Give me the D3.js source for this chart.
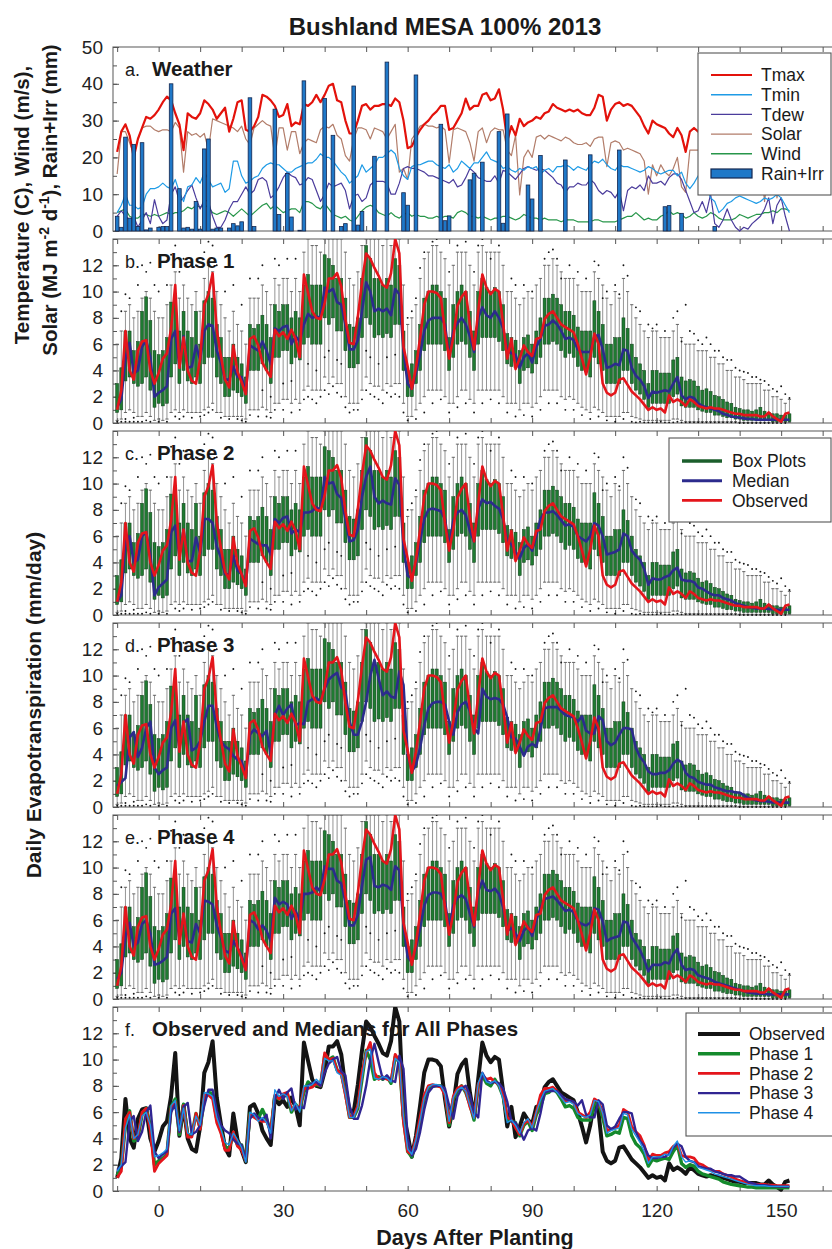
<!DOCTYPE html>
<html><head><meta charset="utf-8">
<script src="https://cdn.jsdelivr.net/npm/d3@7"></script>
<style>body{margin:0;background:#fff}svg{display:block}</style>
</head><body>
<svg id="c" width="832" height="1249"></svg>
<script>
// ---------------- DATA ----------------
const days = d3.range(-10, 153); // day after planting, -10 .. 152
const xTickLabels = [0, 30, 60, 90, 120, 150];
const wTickLabels = [0, 10, 20, 30, 40, 50];
const etTickLabels = [0, 2, 4, 6, 8, 10, 12];

const tmax = [21.5,27,29,26,20,25,28,31,30.5,31.5,
 33,35,36.5,35.5,32,29,22,32,31,30.5,
 32,35.5,34.5,33,30.5,32,33.5,27,30.5,35,
 35.5,27.5,27,28.5,31,37,36.5,35.5,34,31,
 31.5,34.5,28.5,29.5,29,34.5,34,35,37,35,
 37,39.5,40,35.5,35,30,26.5,26.5,30,34,
 34.5,33,34,34,34.5,34.5,34,36,35,30,
 22.5,23,25.5,27.5,29,30,31.5,32.5,34,34,
 27.5,28,30,32,36,33,34,34,37,37.5,
 35.5,36,38.5,33,24.5,28.5,26,30.5,28.5,29.5,
 30,31,30.5,32,32.5,34.5,33.5,33,32.5,33,
 32.5,33,32,31.5,31.5,33.5,37,36.5,30,33,
 34.5,35,34,34.5,34,32.5,31,28.5,26.5,30,
 29,28.5,28,26.5,25.5,28,26,21.5,27,28,
 27,28,29,30,28,27,29,30,28,27,
 26,28,29,27,26,25,27,28,26,25,
 27,24,22];
const tmin = [5,7,10,7,7,6,6.5,10,11.5,11.5,
 12,13,12,11.5,14,10.5,8,12,12.5,14.5,
 13,16,14,12,12.5,13,10.5,11.5,19,19,
 15,13,13.5,14.5,15,17,18,18.5,18,18,
 17,16,16,17,17.5,18,18.5,18.5,19.5,21,
 20,20,19,17.5,16,15,13,14,15,18,
 16,17,18,20,20,21,22,21,17,15,
 14,17.5,18,18,18.5,19,19,18,17.5,17,
 18,16,17,19,18,17,18.5,18.5,20,21.5,
 19.5,19,18.5,17,17.5,16.5,16,17,16.5,17.5,
 17,17.5,15.5,16.5,17,16,17.5,17.5,18,17.5,
 16.5,17.5,17,16.5,18,19,18.5,19.5,18,17,
 16.5,18,17.5,17.5,17,16.5,16,16.5,17.5,17,
 16,15.5,16,16.5,16.5,15,16,13,11.5,13,
 15,14,12,9,8,5,6,7.5,8,9,
 9.5,9,8.5,8,7.5,8,9,8.5,9,10,
 9,7,5];
const tdew = [4,5.5,4,3,4,1,3,5,2,8.5,
 4,2,3,10,12,8,9,11,12.5,9,
 6,8.5,8,4,1,1,3,6,8,8,
 10,12,10,11,14,14.5,13.5,9,10,12,
 14.5,16,15,14.5,12.5,13,14.5,14,11,8,
 10,13,12,12.5,13,11,6,9.5,10,8,
 9,12.5,13.5,13.5,13.5,13,10,10,13,17,
 17.5,17,17,16.5,16,15,15,14.5,14,13.5,
 13,14,12,12.5,14.5,17,16,14.5,14,13.5,
 13.5,15,13,16.5,16,15,14,15.5,17,17.5,
 17,16.5,17,16.5,15.5,14.5,13,12.5,10.5,12,
 12,13,12.5,12.5,14,13,11,10,11,10.5,
 9,11,5.5,11,12,11.5,12.5,11,15,13,
 13,13.5,12.5,14.5,15.5,15.5,14,11,8,5,
 5.5,8,5,10,2,1,3,6,3,1,
 0,1,0.5,2,3,4,6,9,2,7,
 9,4,0];
const solar = [15.5,27,27,24,21,25,28,28.5,28.5,27.5,
 27,27.5,27.5,27,29.5,28,16,27,26,26.5,
 25.5,26.5,22,30.5,30,29.5,29,28.5,28,27,
 28.5,25,23.5,28,29,30,29,28.5,20,28,
 28,22,27,27,21,24,25,24.5,24,27.5,
 28.5,28,29,26,25,20.5,19,25,28,28,
 27.5,25,28,27.5,27,25,27,29,16,17,
 14,25,26.5,28.5,29,28.5,28.5,28,28.5,27.5,
 18.5,27.5,28,27.5,27,24,19,27,28,24,
 27,28,27.5,27.5,22,20.5,26,9.8,20,22,
 20,25.5,26,25,26,25.5,25,24.5,25.5,25,
 24,23.5,23.5,24,23,25,25.5,25.5,17.5,24,
 24.5,24,22,22.5,22,21.5,21,19,10,18,
 15,18,16,15,17,20,12,10.5,22,22,
 22,21,20,22,21,20,19,21,20,19,
 18,20,19,18,17,19,8,18,17,9,
 16,12,15];
const wind = [5,5.5,6,4,3.5,3.5,4.5,4.5,4,4.5,
 4,4.5,5,4.5,5,5,5.5,6.5,6,7,
 6.5,7,6.5,5,4.5,5,5.5,5,4,5,
 6,5,4,5,6,7,7.5,6,7,6,
 5,5.5,6,6,5,8,8,7.5,6.5,6,
 7.5,6,4.5,4,3.5,4,3,2.5,4,5.5,
 6.5,7,6.5,5,4.5,4,5,4,3.5,4.5,
 5,4,4.5,4,4,3.5,3.5,4,3.5,4,
 4,3.5,5,5.5,5,4,4,3.5,4,3.5,
 3,3.5,3.5,4,4,3.5,3,3.5,4.5,4,
 3.5,3.5,3,3.5,3,3,3,2.5,3,3,
 3,2.5,2.5,2.5,2.5,3,3,2.5,2.5,2.5,
 2.5,3,3.5,4,4,5,4,3,3.5,3,
 3,4,4.5,5.5,4.5,5,4.5,3.5,4,5,
 4,3.5,4,5,4.5,3.5,3,3,3,3.5,
 4.5,4,3.5,4,4.5,4.5,5,5,5.5,5,
 6,6,5.5];
// rain + irrigation: [day, mm]
const rainIrr = [[-10,4],[-9,1],[-8,25.5],[-7,3.5],[-6,23.5],[-5,1.2],[-4,24],[-3,0.3],[-2,0.8],
 [0,1],[1,1.2],[2,1.2],[3,40],[5,11.5],[6,0.8],[7,1],[8,0.5],[9,8],[10,0.5],[11,22.3],[12,25],
 [13,0.5],[14,0.8],[15,0.8],[17,0.8],[18,2],[19,1.4],[20,2.5],[22,36.2],[23,1.2],[28,33.1],[29,4.5],
 [31,15.6],[32,3.8],[34,0.2],[35,40.8],[40,36],[42,26],[44,1.2],[45,2],[47,39.4],[48,1.6],[49,5.3],
 [52,20.3],[55,45.9],[59,10.4],[60,7],[62,42.4],[68,29],[69,2.8],[70,4.1],[75,13.9],[76,15.7],
 [78,18.7],[82,27],[83,2.1],[84,31.8],[89,12.5],[90,8.7],[92,20.5],[98,19.3],[104,20.7],[111,22],
 [122,6.6],[123,6.9],[126,4.8],[134,1.2]];

const observed = [1.0,2.5,7.0,4.0,3.3,5.5,6.2,6.3,4.0,3.0,
 3.8,4.9,5.3,7.2,10.5,4.2,6.5,4.0,3.2,3.0,
 4.9,9.0,9.8,11.4,7.1,5.1,3.3,2.7,5.9,3.9,
 3.1,2.2,6.4,6.6,5.9,4.6,4.0,3.5,7.1,6.6,
 6.9,6.4,7.1,6.4,5.0,11.3,9.9,8.5,8.0,7.9,
 9.1,11.0,11.0,11.4,10.4,7.9,6.1,6.0,8.1,10.7,
 12.9,12.5,11.8,11.2,10.5,10.3,11.4,14.0,12.9,5.8,
 4.3,2.6,4.2,6.5,9.0,10.0,10.0,9.9,9.5,7.0,
 4.9,6.5,8.9,9.6,10.0,7.5,5.6,8.5,11.3,10.3,
 9.8,10.2,10.0,7.6,4.9,6.4,4.1,4.9,5.9,5.4,
 5.1,6.4,6.5,7.9,8.3,8.5,8.0,7.5,7.3,7.1,
 6.9,6.0,4.9,3.7,5.0,6.8,6.0,3.0,2.3,2.1,
 2.3,3.3,3.4,2.9,2.4,2.1,1.8,1.4,1.0,1.2,
 1.0,1.1,0.8,2.1,1.6,1.8,1.6,1.3,1.8,1.6,
 1.3,1.2,1.1,1.2,1.1,1.1,1.0,0.9,0.8,0.7,
 0.7,0.6,0.6,0.6,0.6,0.5,0.5,0.8,0.5,0.3,
 0.1,0.7,0.8];
const medianP1 = [1.2,1.8,5.0,6.1,3.8,4.0,5.8,6.3,5.0,2.0,
 2.3,2.5,2.8,6.4,7.0,4.3,6.6,4.2,4.3,5.9,
 4.8,7.0,7.5,7.4,5.5,4.6,3.3,3.3,4.3,3.5,
 3.5,2.3,5.9,5.7,5.5,6.2,5.5,4.5,7.2,7.0,
 7.3,7.4,6.0,6.6,6.2,7.5,8.3,8.0,8.1,8.0,
 10.3,10.0,10.2,9.2,9.0,7.5,5.6,5.6,6.3,8.5,
 10.7,10.0,8.5,8.7,8.5,8.7,8.2,10.2,9.8,5.5,
 3.0,2.6,3.8,5.2,7.0,7.8,8.0,8.0,8.0,7.5,
 5.0,7.0,7.6,8.0,7.5,6.6,5.4,8.0,8.8,8.2,
 8.0,8.5,8.0,7.2,5.5,5.3,5.2,4.2,5.0,5.3,
 4.6,5.8,6.4,7.4,7.5,7.8,7.5,7.0,6.4,6.5,
 6.3,5.6,5.4,5.4,5.4,6.6,6.7,5.6,4.2,4.3,
 4.5,4.4,5.6,5.5,4.2,3.6,3.3,2.8,1.9,2.4,
 2.3,2.4,2.5,2.4,3.0,3.5,2.1,1.8,2.0,1.9,
 1.5,1.3,1.2,1.1,1.0,0.9,0.7,0.6,0.5,0.45,
 0.4,0.35,0.3,0.3,0.25,0.25,0.25,0.25,0.25,0.25,
 0.25,0.25,0.25];
const medianP2 = [1.0,1.5,5.5,6.0,4.0,4.2,6.0,6.3,4.6,1.5,
 2.1,2.4,2.7,6.3,6.8,4.5,6.5,4.1,4.1,5.9,
 4.7,7.3,7.3,7.0,5.2,4.4,3.1,3.1,4.5,3.4,
 3.1,2.3,5.8,5.6,5.4,5.3,5.3,4.6,7.3,7.0,
 7.4,7.5,6.2,6.5,6.3,7.8,7.8,7.9,8.2,8.0,
 10.5,10.0,10.1,9.2,8.9,7.3,5.6,5.7,6.5,9.0,
 10.5,11.3,9.0,8.5,8.7,8.5,8.4,10.4,9.9,5.2,
 3.0,2.8,4.0,5.6,7.3,8.0,8.1,8.0,7.9,7.3,
 5.2,7.2,7.8,8.0,7.6,6.4,5.6,8.1,8.8,8.5,
 8.6,8.3,8.1,7.3,5.6,5.4,4.8,4.3,5.1,5.4,
 4.9,6.0,7.3,7.8,7.8,7.9,7.6,7.2,6.8,6.9,
 6.7,6.0,5.8,5.6,6.0,7.0,6.8,6.0,4.6,4.7,
 4.8,5.0,6.2,6.0,4.9,4.5,4.2,3.5,2.3,2.8,
 2.7,2.7,2.9,3.0,3.4,3.6,2.7,2.6,2.6,2.5,
 2.1,2.0,1.8,1.6,1.5,1.5,1.3,1.2,1.1,0.9,
 0.8,0.7,0.6,0.55,0.5,0.5,0.5,0.45,0.45,0.4,
 0.4,0.4,0.4];
const medianP3 = [1.6,1.9,2.2,5.3,5.7,3.8,4.5,6.0,6.5,3.0,
 2.5,2.8,3.0,6.0,6.6,4.5,6.4,6.7,4.3,4.5,
 5.0,6.5,7.7,7.7,6.1,5.0,4.6,4.4,3.9,3.6,
 3.5,2.3,5.5,5.9,5.6,5.4,5.8,4.0,7.0,7.7,
 7.0,7.5,7.8,6.2,6.4,6.3,8.0,8.2,8.3,8.0,
 9.0,9.7,10.0,10.2,9.1,8.8,6.5,5.5,5.5,6.5,
 8.0,10.0,11.2,9.8,8.5,8.8,8.4,8.3,10.3,9.3,
 4.0,2.7,3.2,4.5,6.2,7.5,7.9,8.0,8.0,7.8,
 6.5,5.5,7.2,7.8,8.0,7.3,6.0,5.6,9.0,8.4,
 8.2,8.3,8.2,7.8,6.8,5.3,5.2,4.6,3.9,4.6,
 4.8,4.6,5.9,7.5,7.6,7.6,7.6,7.3,7.0,6.9,
 6.8,6.5,6.9,5.8,5.6,5.6,6.9,6.6,5.0,4.7,
 4.9,5.5,6.0,6.0,5.9,4.5,3.8,3.4,2.7,2.5,
 2.5,2.6,2.6,2.8,3.3,3.6,3.4,2.6,2.3,2.2,
 1.9,1.8,1.7,1.7,1.5,1.4,1.3,1.2,1.2,1.1,
 1.1,0.9,0.7,0.6,0.5,0.45,0.45,0.4,0.35,0.35,
 0.33,0.33,0.33];
const medianP4 = [1.5,2.0,4.8,5.8,4.0,4.3,5.7,6.0,5.0,2.6,
 2.7,2.9,3.2,6.5,6.9,4.6,6.3,4.4,4.3,5.7,
 5.0,7.5,7.4,7.2,5.6,4.7,3.7,3.5,4.4,3.9,
 3.3,2.2,6.0,5.8,5.3,5.6,5.2,4.4,7.7,7.2,
 7.4,7.2,6.1,6.7,6.0,8.0,8.0,8.1,8.5,8.2,
 10.1,9.9,9.9,9.0,8.8,7.4,5.6,5.6,6.4,8.6,
 10.6,10.8,8.6,8.5,8.7,8.6,8.3,10.1,9.8,5.6,
 3.2,2.8,3.9,5.4,7.1,7.9,8.1,8.1,8.0,7.4,
 5.3,7.1,7.7,7.9,7.6,6.5,5.5,8.2,9.0,8.3,
 8.2,8.4,8.0,7.0,5.2,5.4,5.0,4.4,5.2,5.5,
 4.8,6.0,6.9,7.6,7.7,7.8,7.5,7.1,6.7,6.8,
 6.6,5.9,5.7,5.6,5.8,6.9,6.8,5.9,4.4,4.6,
 4.7,4.8,5.9,5.8,4.7,4.2,3.7,3.0,2.1,2.6,
 2.6,2.6,2.8,2.7,3.4,3.8,2.6,2.2,2.3,2.2,
 1.8,1.7,1.6,1.5,1.3,1.2,1.1,1.0,0.9,0.8,
 0.7,0.6,0.5,0.45,0.4,0.4,0.4,0.35,0.35,0.35,
 0.35,0.35,0.35];
// box-plot statistics (ensemble of simulations), per day
const boxQ1 = [0.8,1.0,3.2,3.5,3.0,2.8,3.0,3.5,2.5,1.2,
 1.5,1.3,1.5,3.5,4.5,3.0,4.0,3.2,3.0,3.5,
 3.0,4.5,5.0,5.0,3.5,3.0,2.0,2.0,2.5,2.3,
 2.0,1.5,4.0,4.0,4.0,4.5,4.0,3.0,5.0,5.0,
 5.5,5.5,4.5,5.0,4.8,6.0,6.5,6.0,6.0,6.0,
 8.0,7.5,8.0,7.0,7.0,5.5,4.2,4.2,4.5,6.5,
 8.0,7.5,6.5,6.7,6.5,6.8,6.5,7.5,7.5,4.0,
 2.0,2.0,3.0,4.0,5.5,6.0,6.0,6.0,6.0,5.5,
 4.0,5.0,6.0,6.2,6.0,5.0,4.0,6.0,6.5,6.5,
 6.5,6.5,6.2,5.5,4.5,4.3,4.2,3.0,4.0,4.2,
 3.8,4.5,5.0,6.0,6.0,6.2,6.0,5.5,5.0,5.3,
 5.0,4.3,4.0,4.0,3.5,5.0,4.5,4.0,3.0,3.0,
 3.0,3.0,4.0,4.0,3.0,2.5,2.2,1.8,1.2,1.5,
 1.5,1.5,1.5,1.5,2.0,2.2,1.3,1.2,1.2,1.2,
 1.0,0.9,0.8,0.8,0.6,0.6,0.5,0.4,0.4,0.3,
 0.3,0.2,0.2,0.2,0.2,0.2,0.2,0.2,0.1,0.1,
 0.1,0.1,0.1];
const boxQ3 = [3.0,4.2,7.0,7.0,5.5,6.2,8.5,9.6,7.8,5.5,
 5.2,5.5,6.5,9.2,9.5,7.0,8.5,7.0,6.5,8.5,
 6.0,9.3,10.0,9.5,7.5,6.5,5.0,5.0,6.0,5.0,
 4.5,3.5,7.5,7.2,7.5,8.2,7.5,6.5,9.0,8.5,
 9.0,9.0,8.0,8.5,8.0,10.5,11.3,10.5,10.5,10.5,
 12.8,12.5,12.0,11.0,11.0,9.5,7.5,7.3,8.0,11.0,
 13.5,12.5,11.0,11.0,10.5,11.0,10.5,12.5,12.0,7.0,
 4.0,4.5,5.5,7.5,9.5,10.0,10.5,10.5,10.0,9.5,
 6.5,9.0,10.0,10.5,10.0,8.5,7.0,10.0,11.0,10.3,
 10.0,10.3,10.0,9.0,6.8,6.5,6.3,5.5,6.5,6.7,
 6.0,7.0,8.0,9.5,9.5,9.8,9.5,9.0,8.5,8.5,
 8.2,7.3,7.0,7.0,7.0,9.3,8.5,7.5,6.0,6.0,
 6.5,6.5,8.0,7.2,6.0,5.0,4.5,4.0,3.0,4.0,
 4.0,3.8,3.8,3.8,4.8,5.0,3.5,3.2,3.3,3.2,
 2.8,2.5,2.6,2.4,2.1,2.0,1.8,1.6,1.5,1.2,
 1.1,1.0,1.0,0.9,1.0,1.2,0.9,0.8,0.7,0.7,
 0.6,0.6,0.7];
const whiskerLo = [0.2,0.3,0.8,1.0,0.8,0.5,0.5,0.8,0.5,0.2,
 0.3,0.2,0.3,0.8,1.0,0.8,1.0,0.8,0.8,0.8,
 0.8,1.0,1.2,1.5,0.8,0.8,0.5,0.5,0.5,0.5,
 0.5,0.3,1.0,1.0,1.0,1.2,1.0,0.8,1.5,1.5,
 1.8,1.8,1.5,1.8,1.5,2.5,2.8,2.5,2.5,2.5,
 3.5,3.0,3.5,3.0,3.0,2.0,1.5,1.5,1.5,2.5,
 3.5,3.0,2.8,2.8,2.5,3.0,2.8,3.0,3.0,1.5,
 0.5,0.5,1.0,1.5,2.0,2.5,2.5,2.5,2.5,2.0,
 1.5,1.5,2.0,2.5,2.5,1.8,1.5,2.5,2.5,2.5,
 2.5,2.5,2.5,2.0,1.5,1.5,1.5,1.0,1.5,1.5,
 1.2,1.5,2.0,2.5,2.5,2.5,2.5,2.0,1.8,2.0,
 1.8,1.5,1.2,1.0,0.8,1.2,1.0,0.8,0.5,0.5,
 0.5,0.5,0.8,0.8,0.5,0.4,0.3,0.2,0.2,0.2,
 0.2,0.2,0.2,0.2,0.3,0.3,0.2,0.1,0.1,0.1,
 0.1,0.1,0.1,0.1,0.1,0.1,0.1,0.1,0.1,0.1,
 0.05,0.05,0.05,0.05,0.05,0.05,0.05,0.05,0.05,0.05,
 0.05,0.05,0.05];
const whiskerHi = [6.0,7.0,8.5,9.0,8.0,8.5,9.5,10.0,9.5,8.5,
 8.0,8.0,9.0,10.5,11.5,9.5,10.5,9.5,9.0,10.0,
 8.5,11.0,12.0,11.5,10.0,9.0,8.0,7.0,8.5,7.5,
 7.0,6.0,9.5,9.5,9.5,10.5,10.0,9.0,11.0,10.5,
 11.0,11.0,10.0,11.0,10.0,13.0,14.0,13.5,13.5,13.0,
 14.0,14.0,14.0,14.0,14.0,13.0,11.0,10.5,11.5,13.5,
 14.0,14.0,14.0,14.0,13.5,14.0,13.5,14.0,14.0,10.5,
 7.5,8.0,9.0,11.0,12.5,13.0,13.5,13.5,13.0,12.5,
 10.5,12.0,13.0,13.0,13.0,12.0,10.5,13.0,13.5,13.0,
 13.0,13.0,13.0,12.0,10.0,10.0,9.5,9.0,9.5,10.0,
 9.5,10.5,11.0,12.0,12.0,12.5,12.0,11.5,11.0,11.0,
 11.0,10.5,10.0,10.0,10.0,11.5,11.0,10.5,9.5,9.0,
 10.0,9.5,11.0,10.0,9.0,8.0,7.5,7.0,6.5,7.0,
 7.0,6.5,6.5,6.5,7.0,7.5,6.5,6.0,6.0,6.0,
 5.5,5.5,5.5,5.0,5.0,4.5,4.5,4.0,4.0,3.5,
 3.5,3.3,3.0,3.0,3.0,3.0,2.5,2.5,2.0,2.0,
 1.8,1.5,1.8];
// outlying simulation values: [day, mm/day]
const outliers = [[-10,0.1],[-9,0.1],[-8,0.1],[-7,0.1],[-6,0.1],[-5,0.1],[-4,0.1],[-3,0.2],[-2,0.1],[0,0.1],[2,0.1],[-8,0.3],[-6,0.4],
 [-9,8.5],[-8,9.8],[-7,9.5],[-5,10.5],[-4,12.0],[-3,11.5],[-2,12.2],[-1,10.5],[0,10.0],[2,10.5],[3,12.8],[4,13.5],[5,11.5],[6,12.5],[9,12.0],[11,13.0],[12,13.8],[13,13.5],[14,12.0],[16,10.0],[18,10.5],[20,9.0],[22,11.0],[24,11.0],[25,12.0],[28,12.5],[29,12.0],[31,12.5],[33,12.5],
 [4,0.5],[5,0.3],[6,0.5],[8,0.4],[10,0.5],[11,0.6],[12,0.8],[13,1.0],[15,0.4],[17,0.3],[19,0.3],[20,0.2],[21,0.1],[22,0.6],[24,0.5],[26,0.5],[27,0.4],[28,1.0],[30,1.0],[32,0.8],[34,1.0],[35,1.8],[36,2.0],[37,1.8],[38,1.5],[39,2.0],[40,2.5],[41,2.2],[42,2.8],[43,2.3],[44,2.0],[45,1.2],[46,0.8],[47,1.0],[48,1.0],[49,1.8],[50,2.5],[51,2.2],[52,2.0],[53,1.8],[54,1.5],[55,2.3],[56,2.0],[57,2.2],[58,2.0],[59,0.8],
 [36,4.5],[38,4.0],[40,5.0],[41,5.5],[43,4.8],[44,4.5],[50,5.5],[51,5.0],[53,4.5],[55,5.0],[57,5.2],[30,3.0],[32,3.2],[25,2.5],[27,2.0],
 [62,9.5],[63,11.8],[64,13.0],[66,13.8],[67,14.0],[70,11.5],[72,13.5],[74,13.8],[76,11.5],[77,13.5],[78,14.0],[82,13.5],[85,11.0],[86,10.5],[88,10.5],[90,10.0],[93,12.5],[94,13.0],[95,13.2],[96,12.5],[99,12.0],[101,11.5],[103,11.0],[105,12.3],[106,12.0],[108,10.0],[110,10.5],[112,12.0],[113,11.2],[116,8.5],[118,7.5],[120,7.5],[122,7.0],[124,8.0],[125,8.5],[127,9.0],[128,7.0],[130,6.3],[131,6.0],[134,5.5],[136,5.0],[138,4.8],[140,4.0],[142,3.8],[144,3.5],[146,3.2],[148,2.6],[150,2.8],[152,1.9],
 [60,0.2],[62,0.3],[64,0.8],[66,1.5],[68,1.8],[70,0.8],[72,1.2],[74,1.5],[76,0.8],[78,1.5],[80,1.8],[82,1.5],[84,0.8],[86,0.5],[88,0.6],[90,0.5],[92,1.0],[94,1.5],[96,1.5],[98,1.0],[100,1.0],[102,0.6],[104,0.3],[106,0.5],[108,0.2],[110,0.1],[112,0.3],[114,0.1],
 [115,0.05],[116,0.1],[117,0.05],[118,0.05],[119,0.05],[120,0.05],[121,0.1],[122,0.05],[123,0.05],[124,0.05],[125,0.1],[126,0.05],[127,0.05],[128,0.05],[129,0.05],[130,0.05],[131,0.05],[132,0.05],[133,0.05],[134,0.05],[135,0.05],[136,0.05],[137,0.05],[138,0.05],[139,0.05],[140,0],[141,0],[142,0],[143,0],[144,0],[145,0],[146,0],[147,0],[148,0],[149,0],[150,0],[151,0],
 [80,12.5],[97,11.0],[60,8.0],[61,8.5],[107,9.5],[111,9.8],[115,8.8],[119,7.2],[126,6.2],[129,6.8],[132,6.5],[133,6.0],[135,5.5],[137,4.8],[139,4.2],[141,3.9],[143,3.5],[145,3.3],[147,2.9],[149,2.4],[151,2.2]];

const weatherSeries = [
  {name:"Tmax", values:tmax, color:"#e3120b", width:2.2},
  {name:"Tmin", values:tmin, color:"#1e9be6", width:1.2},
  {name:"Tdew", values:tdew, color:"#4b3c9c", width:1.2},
  {name:"Solar", values:solar, color:"#b27d6a", width:1.2},
  {name:"Wind", values:wind, color:"#27964a", width:1.2}
];
const etPanels = [
  {label:"b.", title:"Phase 1", median:medianP1},
  {label:"c.", title:"Phase 2", median:medianP2},
  {label:"d.", title:"Phase 3", median:medianP3},
  {label:"e.", title:"Phase 4", median:medianP4}
];
const allSeries = [
  {name:"Observed", values:observed, color:"#141414", width:4},
  {name:"Phase 1", values:medianP1, color:"#148a2c", width:3.4},
  {name:"Phase 2", values:medianP2, color:"#e4151b", width:2.8},
  {name:"Phase 3", values:medianP3, color:"#302592", width:2.4},
  {name:"Phase 4", values:medianP4, color:"#1e90e6", width:1.4}
];

// ---------------- DRAWING ----------------
const FONT = '"Liberation Sans", Arial, Helvetica, sans-serif';
const svg = d3.select("#c");
const X0 = 113, PXDAY = 4.15;
const x = d3.scaleLinear().domain([-11, 164]).range([X0, X0 + 175 * PXDAY]);
const PH = 184; // panel height
const tops = [47, 239, 431, 623, 815, 1007];

function styleAxis(s, fs) {
  s.attr("font-family", FONT).attr("font-size", fs);
  s.select(".domain").remove();
  s.selectAll("line").attr("stroke", "#555").attr("stroke-width", 1);
  s.selectAll("text").attr("fill", "#222");
}
function frame(top, yScale, major, minor, id) {
  const g = svg.append("g");
  const bottom = top + PH;
  g.append("rect").attr("x", X0).attr("y", top).attr("width", 760).attr("height", PH)
    .attr("fill", "none").attr("stroke", "#666").attr("stroke-width", 1.1);
  const tv = d3.range(-10, 161, 10);
  g.append("g").attr("transform", `translate(0,${top})`)
    .call(d3.axisTop(x).tickValues(tv).tickSize(-5).tickFormat("")).call(s => styleAxis(s, 18));
  g.append("g").attr("transform", `translate(0,${bottom})`)
    .call(d3.axisBottom(x).tickValues(tv).tickSize(-5).tickFormat("")).call(s => styleAxis(s, 18));
  g.append("g").attr("transform", `translate(${X0},0)`)
    .call(d3.axisLeft(yScale).tickValues(minor).tickSize(-4).tickFormat("")).call(s => styleAxis(s, 18));
  g.append("g").attr("transform", `translate(${X0},0)`)
    .call(d3.axisLeft(yScale).tickValues(major).tickSize(-6).tickPadding(10)).call(s => styleAxis(s, 19));
  svg.append("clipPath").attr("id", id).append("rect")
    .attr("x", X0).attr("y", top).attr("width", 760).attr("height", PH + 1.5);
  return g;
}
function panelLabel(top, lab, title) {
  const t = svg.append("text").attr("x", 125).attr("y", top + 29)
    .attr("font-family", FONT).attr("fill", "#1a1a1a");
  t.append("tspan").attr("font-size", 18).text(lab);
  t.append("tspan").attr("x", lab === "a." || lab === "f." ? 152 : 157)
    .attr("font-size", 20.5).attr("font-weight", "bold").text(title);
}
function legend(x0, y0, w, h, y1, items, lineX1, lineX2, textX) {
  const g = svg.append("g");
  g.append("rect").attr("x", x0).attr("y", y0).attr("width", w).attr("height", h)
    .attr("fill", "#fff").attr("stroke", "#555").attr("stroke-width", 1.1);
  items.forEach((it, i) => {
    const yy = y1 + i * 19.7;
    if (it.bar) {
      g.append("rect").attr("x", lineX1).attr("y", yy - 4.5).attr("width", lineX2 - lineX1).attr("height", 9)
        .attr("fill", "#1f78c8").attr("stroke", "#13264f").attr("stroke-width", 1.2);
    } else {
      g.append("line").attr("x1", lineX1).attr("x2", lineX2).attr("y1", yy).attr("y2", yy)
        .attr("stroke", it.color).attr("stroke-width", it.width);
    }
    g.append("text").attr("x", textX).attr("y", yy).attr("dy", "0.36em")
      .attr("font-family", FONT).attr("font-size", 17.5).attr("fill", "#1a1a1a").text(it.name);
  });
}

// ---- panel a: weather
const yW = d3.scaleLinear().domain([0, 50]).range([tops[0] + PH, tops[0]]);
frame(tops[0], yW, wTickLabels, d3.range(0, 51, 5), "clipW");
const gW = svg.append("g").attr("clip-path", "url(#clipW)");
const lineW = d3.line().x((d, i) => x(days[i])).y(d => yW(d));
weatherSeries.slice().reverse().forEach(s => {
  gW.append("path").datum(s.values).attr("d", lineW).attr("fill", "none")
    .attr("stroke", s.color).attr("stroke-width", s.width).attr("stroke-linejoin", "round");
});
gW.selectAll("rect.rain").data(rainIrr).join("rect").attr("class", "rain")
  .attr("x", d => x(d[0]) - 1.8).attr("width", 3.6)
  .attr("y", d => yW(d[1])).attr("height", d => yW(0) - yW(d[1]))
  .attr("fill", "#1f78c8").attr("stroke", "#13264f").attr("stroke-width", 0.8);
panelLabel(tops[0], "a.", "Weather");
legend(698, 53, 133, 142, 75, [
  ...weatherSeries.map(s => ({name: s.name, color: s.color, width: s.name === "Tmax" ? 2 : 1.4})),
  {name: "Rain+Irr", bar: true}
], 711, 752, 761);

// ---- panels b-e: box plots
etPanels.forEach((p, k) => {
  const top = tops[k + 1];
  const y = d3.scaleLinear().domain([0, 14]).range([top + PH, top]);
  const id = "clipP" + k;
  frame(top, y, etTickLabels, d3.range(0, 14.1, 1), id);
  const g = svg.append("g").attr("clip-path", `url(#${id})`);
  g.selectAll("line.wh").data(days).join("line").attr("class", "wh")
    .attr("x1", d => x(d)).attr("x2", d => x(d))
    .attr("y1", (d, i) => y(whiskerLo[i])).attr("y2", (d, i) => y(whiskerHi[i]))
    .attr("stroke", "#7a7a7a").attr("stroke-width", 0.8);
  [whiskerLo, whiskerHi].forEach(arr => {
    g.selectAll(null).data(days).join("line")
      .attr("x1", d => x(d) - 1.6).attr("x2", d => x(d) + 1.6)
      .attr("y1", (d, i) => y(arr[i])).attr("y2", (d, i) => y(arr[i]))
      .attr("stroke", "#555").attr("stroke-width", 0.9);
  });
  g.selectAll("rect.bx").data(days).join("rect").attr("class", "bx")
    .attr("x", d => x(d) - 1.5).attr("width", 3)
    .attr("y", (d, i) => y(boxQ3[i])).attr("height", (d, i) => y(boxQ1[i]) - y(boxQ3[i]))
    .attr("fill", "#1f7a31").attr("stroke", "#0e3b17").attr("stroke-width", 0.5);
  g.selectAll("circle.o").data(outliers).join("circle").attr("class", "o")
    .attr("cx", d => x(d[0])).attr("cy", d => y(d[1])).attr("r", 0.95).attr("fill", "#151515");
  const ln = d3.line().x((d, i) => x(days[i])).y(d => y(d));
  g.append("path").datum(p.median).attr("d", ln).attr("fill", "none")
    .attr("stroke", "#2c2b8d").attr("stroke-width", 2.6).attr("stroke-linejoin", "round");
  g.append("path").datum(observed).attr("d", ln).attr("fill", "none")
    .attr("stroke", "#e4151b").attr("stroke-width", 2.6).attr("stroke-linejoin", "round");
  panelLabel(top, p.label, p.title);
});
legend(669, 438, 162, 84, 461, [
  {name: "Box Plots", color: "#1b5e2c", width: 3.5},
  {name: "Median", color: "#2c2b8d", width: 3},
  {name: "Observed", color: "#e4151b", width: 2.6}
], 682, 722, 732);

// ---- panel f: observed and medians
const yF = d3.scaleLinear().domain([0, 14]).range([tops[5] + PH, tops[5]]);
frame(tops[5], yF, etTickLabels, d3.range(0, 14.1, 1), "clipF");
const gF = svg.append("g").attr("clip-path", "url(#clipF)");
const lnF = d3.line().x((d, i) => x(days[i])).y(d => yF(d));
allSeries.forEach(s => {
  gF.append("path").datum(s.values).attr("d", lnF).attr("fill", "none")
    .attr("stroke", s.color).attr("stroke-width", s.width).attr("stroke-linejoin", "round");
});
panelLabel(tops[5], "f.", "Observed and Medians for All Phases");
legend(686, 1013, 160, 123, 1034, allSeries, 698, 740, 749);
// x-axis labels
svg.append("g").attr("transform", `translate(0,${tops[5] + PH})`)
  .call(d3.axisBottom(x).tickValues(xTickLabels).tickSize(0).tickPadding(13))
  .call(s => styleAxis(s, 19));

// ---- titles
svg.append("text").attr("x", 445).attr("y", 35).attr("text-anchor", "middle")
  .attr("font-family", FONT).attr("font-size", 24).attr("font-weight", "bold").attr("fill", "#1a1a1a")
  .text("Bushland MESA 100% 2013");
svg.append("text").attr("x", 475).attr("y", 1244.5).attr("text-anchor", "middle")
  .attr("font-family", FONT).attr("font-size", 21.5).attr("font-weight", "bold").attr("fill", "#1a1a1a")
  .text("Days After Planting");
svg.append("text").attr("transform", "translate(41,705) rotate(-90)").attr("text-anchor", "middle")
  .attr("font-family", FONT).attr("font-size", 21).attr("font-weight", "bold").attr("fill", "#1a1a1a")
  .text("Daily Evapotranspiration (mm/day)");
svg.append("text").attr("transform", "translate(29,205) rotate(-90)").attr("text-anchor", "middle")
  .attr("font-family", FONT).attr("font-size", 20.5).attr("font-weight", "bold").attr("fill", "#1a1a1a")
  .text("Temperature (C), Wind (m/s),");
const yl2 = svg.append("text").attr("transform", "translate(57,200) rotate(-90)").attr("text-anchor", "middle")
  .attr("font-family", FONT).attr("font-size", 20.5).attr("font-weight", "bold").attr("fill", "#1a1a1a");
yl2.append("tspan").text("Solar (MJ m");
yl2.append("tspan").attr("dy", -8).attr("font-size", 14).text("-2");
yl2.append("tspan").attr("dy", 8).text(" d");
yl2.append("tspan").attr("dy", -8).attr("font-size", 14).text("-1");
yl2.append("tspan").attr("dy", 8).text("), Rain+Irr (mm)");
</script>
</body></html>
